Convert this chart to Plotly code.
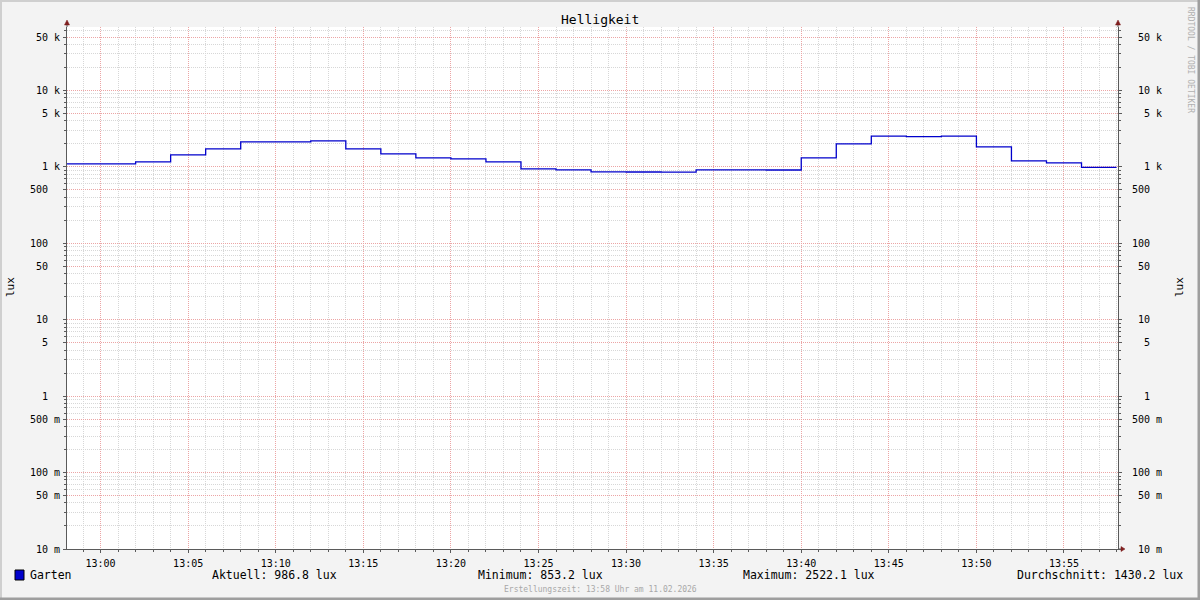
import plotly.graph_objects as go

# ---------------- data ----------------
DATE = "2026-02-11"
step_times = ["12:58", "13:00", "13:02", "13:04", "13:06", "13:08", "13:10", "13:12",
              "13:14", "13:16", "13:18", "13:20", "13:22", "13:24", "13:26", "13:28",
              "13:30", "13:32", "13:34", "13:36", "13:38", "13:40", "13:42", "13:44",
              "13:46", "13:48", "13:50", "13:52", "13:54", "13:56"]
end_time = "13:58"
garten_lux = [1094, 1094, 1162, 1435, 1719, 2123, 2120, 2188,
              1719, 1479, 1312, 1273, 1162, 942, 914, 860,
              856, 853.2, 914, 912, 910, 1312, 2000, 2522.1,
              2490, 2520, 1825, 1198, 1128, 986.8]

series_name = "Garten"
stat_labels = ["Aktuell", "Minimum", "Maximum", "Durchschnitt"]
stat_values = [986.8, 853.2, 2522.1, 1430.2]
unit = "lux"

ytick_vals = [0.01, 0.05, 0.1, 0.5, 1, 5, 10, 50, 100, 500, 1000, 5000, 10000, 50000]
ytick_labels = ["10 m", "50 m", "100 m", "500 m", "1", "5", "10", "50", "100", "500",
                "1 k", "5 k", "10 k", "50 k"]

x_start = "12:58:05"
x_end = "13:58:05"
y_log_range = [-2, 4.83]

# ---------------- geometry helpers ----------------
W_IMG, H_IMG = 1200, 600
L, R, T, B = 67, 82, 27, 51
PW = W_IMG - L - R
PH = H_IMG - T - B


def px(x):
    return (x - L) / PW


def py(y):
    return (H_IMG - B - y) / PH


NB = "\u00a0"
FONT = "DejaVu Sans Mono, monospace"


def fmt_label(s):
    parts = s.split(" ")
    if len(parts) == 1:
        return parts[0] + NB + NB
    return parts[0] + NB + parts[1]


left_text = [fmt_label(s) for s in ytick_labels]
right_text = [fmt_label(s).rjust(5, NB) for s in ytick_labels]

minor_vals = [m * 10 ** e for e in range(-2, 5) for m in (2, 3, 4, 6, 7, 8, 9)
              if m * 10 ** e <= 10 ** y_log_range[1]]

xs = [f"{DATE} {t}:00" for t in step_times] + [f"{DATE} {end_time}:00"]
ys = garten_lux + [garten_lux[-1]]

MAJOR_GRID = "rgb(236,165,165)"
MINOR_GRID = "rgb(215,215,215)"
AXIS_COL = "#5a5a5a"

fig = go.Figure()
fig.add_trace(go.Scatter(x=xs, y=ys, mode="lines", line=dict(color="#0000CC", width=1.3, shape="hv"),
                         showlegend=False, hoverinfo="skip"))
fig.add_trace(go.Scatter(x=xs, y=ys, mode="lines", line=dict(color="rgba(0,0,0,0)", width=0, shape="hv"),
                         showlegend=False, hoverinfo="skip", yaxis="y2"))

yaxis_common = dict(
    type="log", range=y_log_range, tickmode="array", tickvals=ytick_vals,
    showline=True, linecolor=AXIS_COL, linewidth=1,
    ticks="outside", ticklen=3, tickcolor=AXIS_COL, tickwidth=1,
    tickfont=dict(family=FONT, size=10, color="#000"),
    zeroline=False,
)

fig.update_layout(
    width=W_IMG, height=H_IMG,
    margin=dict(l=L, r=R, t=T, b=B, pad=0),
    paper_bgcolor="#F3F3F3", plot_bgcolor="#FFFFFF",
    font=dict(family=FONT, color="#000"),
    xaxis=dict(
        type="date", range=[f"{DATE} {x_start}", f"{DATE} {x_end}"],
        tickformat="%H:%M", dtick=300000, tick0=f"{DATE} 13:00:00",
        showgrid=True, gridcolor=MAJOR_GRID, griddash="1px,1px", gridwidth=1,
        showline=True, linecolor=AXIS_COL, linewidth=1,
        ticks="outside", ticklen=3, tickcolor=AXIS_COL,
        tickfont=dict(family=FONT, size=10, color="#000"),
        minor=dict(dtick=60000, tick0=f"{DATE} 13:00:00", showgrid=True, gridcolor=MINOR_GRID,
                   griddash="1px,1px", gridwidth=1, ticks="outside", ticklen=2, tickcolor=AXIS_COL),
        zeroline=False, ticklabelstandoff=2,
    ),
    yaxis=dict(
        **yaxis_common, side="left", ticktext=left_text,
        showgrid=True, gridcolor=MAJOR_GRID, griddash="1px,1px", gridwidth=1,
        minor=dict(tickmode="array", tickvals=minor_vals, showgrid=True, gridcolor=MINOR_GRID,
                   griddash="1px,1px", gridwidth=1, ticks="outside", ticklen=2, tickcolor=AXIS_COL),
        ticklabelstandoff=1,
    ),
    yaxis2=dict(
        **yaxis_common, side="right", overlaying="y", ticktext=right_text,
        showgrid=False, ticklabelstandoff=8,
        minor=dict(tickmode="array", tickvals=minor_vals, showgrid=False,
                   ticks="outside", ticklen=2, tickcolor=AXIS_COL),
    ),
    showlegend=False,
)

annotations = [
    dict(text="Helligkeit", x=px(600), y=py(19), font=dict(size=13)),
    dict(text=unit, x=px(10), y=py(287), textangle=-90, font=dict(size=11)),
    dict(text=unit, x=px(1179), y=py(287), textangle=-90, font=dict(size=11)),
    dict(text="RRDTOOL / TOBI OETIKER", x=px(1190), y=py(60), textangle=90,
         font=dict(size=8, color="#B0B0B0")),
    dict(text=series_name, x=px(28), y=py(575), xanchor="left", font=dict(size=11.5)),
    dict(text=f"Erstellungszeit: 13:58 Uhr am 11.02.2026", x=px(600), y=py(589),
         font=dict(size=8, color="#A8A8A8")),
]
stat_x = [210, 476, 741, 1185]
stat_anchor = ["left", "left", "left", "right"]
for lab, val, sx, anc in zip(stat_labels, stat_values, stat_x, stat_anchor):
    annotations.append(dict(text=f"{lab}: {val:.1f} {unit}", x=px(sx), y=py(575), xanchor=anc,
                            font=dict(size=11.5)))
for a in annotations:
    a.setdefault("xanchor", "center")
    a.update(xref="paper", yref="paper", showarrow=False, yanchor="middle")
fig.update_layout(annotations=annotations)

ARROW = "#7F1F1F"


def tri(points):
    d = "M " + " L ".join(f"{px(x)},{py(y)}" for x, y in points) + " Z"
    return dict(type="path", path=d, xref="paper", yref="paper", fillcolor=ARROW,
                line=dict(color=ARROW, width=0.5), layer="above")


shapes = [
    # 3D frame of the image
    dict(type="line", x0=px(0), x1=px(W_IMG), y0=py(1), y1=py(1), xref="paper", yref="paper",
         line=dict(color="#CFCFCF", width=2)),
    dict(type="line", x0=px(1), x1=px(1), y0=py(0), y1=py(H_IMG), xref="paper", yref="paper",
         line=dict(color="#CFCFCF", width=2)),
    dict(type="line", x0=px(0), x1=px(W_IMG), y0=py(H_IMG - 1), y1=py(H_IMG - 1), xref="paper",
         yref="paper", line=dict(color="#9E9E9E", width=3)),
    dict(type="line", x0=px(W_IMG - 1), x1=px(W_IMG - 1), y0=py(0), y1=py(H_IMG), xref="paper",
         yref="paper", line=dict(color="#9E9E9E", width=3)),
    # axis extensions
    dict(type="line", x0=px(1118), x1=px(1122), y0=py(549), y1=py(549), xref="paper", yref="paper",
         line=dict(color=AXIS_COL, width=1)),
    dict(type="line", x0=px(67), x1=px(67), y0=py(27), y1=py(22), xref="paper", yref="paper",
         line=dict(color=AXIS_COL, width=1)),
    dict(type="line", x0=px(1118), x1=px(1118), y0=py(27), y1=py(22), xref="paper", yref="paper",
         line=dict(color=AXIS_COL, width=1)),
    tri([(64.5, 25), (69.5, 25), (67, 20)]),
    tri([(1115.5, 25), (1120.5, 25), (1118, 20)]),
    tri([(1121, 546.5), (1121, 551.5), (1125, 549)]),
    # legend swatch
    dict(type="rect", x0=px(15), x1=px(24), y0=py(580), y1=py(570), xref="paper", yref="paper",
         fillcolor="#0000CC", line=dict(color="#000", width=1)),
]
fig.update_layout(shapes=shapes)

fig.write_html("out.html",
               config={"displayModeBar": False},
               post_script="document.body.style.margin='0';document.body.style.padding='0';"
                           "document.body.style.overflow='hidden';")
